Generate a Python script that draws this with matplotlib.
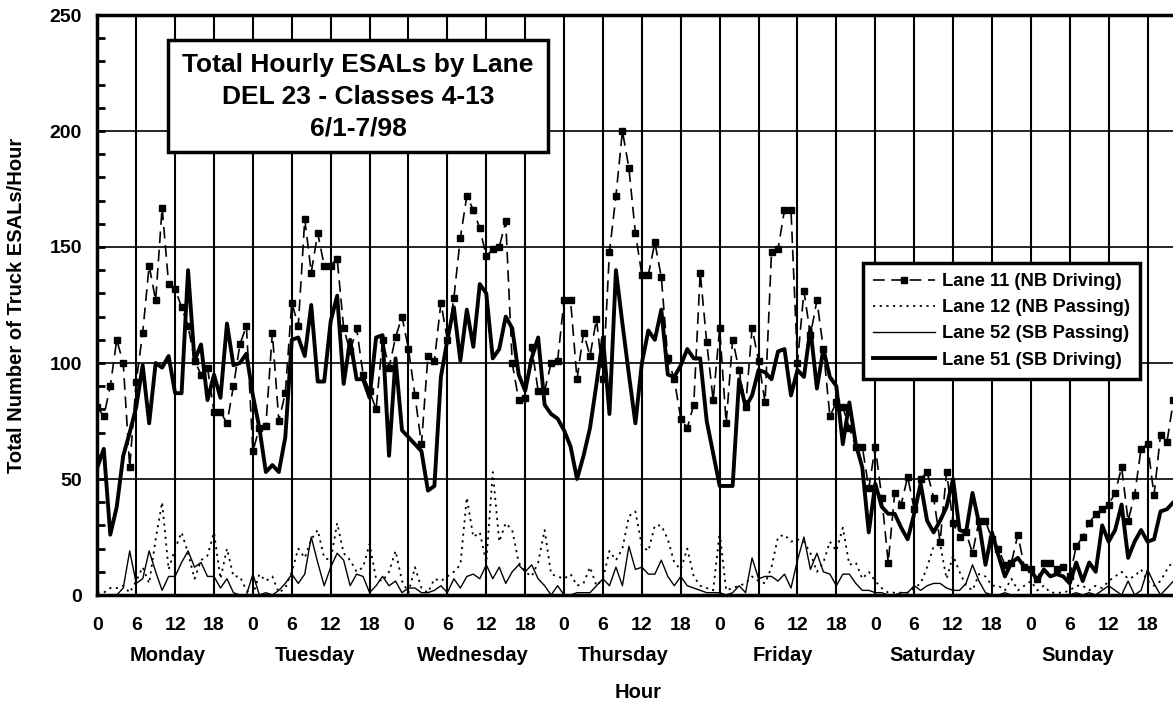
import numpy as np
import matplotlib
matplotlib.use("Agg")
import matplotlib.pyplot as plt
from matplotlib.patches import Rectangle

plt.rcParams['font.family'] = ['Liberation Sans', 'DejaVu Sans']
plt.rcParams['font.weight'] = 'bold'

# hourly ESALs, Monday 0h .. Sunday 23h
lane11 = [81, 77, 90, 110, 100, 55, 92, 113, 142, 127, 167, 134, 132, 124, 116, 101, 95, 98, 79, 79, 74, 90, 108, 116,
          62, 72, 73, 113, 75, 87, 126, 116, 162, 139, 156, 142, 142, 145, 115, 105, 115, 95, 88, 80, 110, 98, 111, 120,
          106, 86, 65, 103, 101, 126, 110, 128, 154, 172, 166, 158, 146, 149, 150, 161, 100, 84, 85, 107, 88, 88, 100, 101,
          127, 127, 93, 113, 103, 119, 93, 148, 172, 200, 184, 156, 138, 138, 152, 137, 102, 93, 76, 72, 82, 139, 109, 84,
          115, 74, 110, 97, 81, 115, 101, 83, 148, 149, 166, 166, 100, 131, 112, 127, 106, 77, 83, 81, 72, 64, 64, 46,
          64, 42, 14, 44, 39, 51, 37, 50, 53, 42, 23, 53, 31, 25, 27, 18, 32, 32, 24, 20, 13, 14, 26, 12,
          11, 7, 14, 14, 11, 12, 8, 21, 25, 31, 35, 37, 39, 44, 55, 32, 43, 63, 65, 43, 69, 66, 84, 84]

lane12 = [1, 1, 3, 3, 4, 1, 6, 12, 5, 24, 40, 11, 20, 27, 18, 7, 15, 17, 27, 7, 20, 8, 8, 2,
          0, 9, 6, 8, 1, 3, 10, 20, 16, 24, 28, 16, 15, 31, 18, 15, 10, 12, 22, 7, 6, 10, 19, 6,
          1, 12, 3, 1, 7, 6, 8, 10, 13, 42, 25, 27, 14, 53, 23, 31, 28, 14, 10, 8, 14, 28, 9, 8,
          7, 9, 4, 5, 12, 4, 7, 19, 15, 20, 34, 36, 21, 19, 30, 30, 24, 14, 11, 20, 8, 4, 3, 2,
          27, 2, 3, 4, 5, 8, 6, 5, 12, 25, 26, 23, 24, 23, 18, 10, 14, 23, 19, 29, 13, 14, 7, 10,
          6, 3, 1, 1, 1, 1, 3, 5, 12, 21, 22, 7, 17, 10, 4, 2, 9, 8, 4, 4, 2, 7, 2, 4,
          6, 2, 4, 1, 1, 1, 2, 4, 4, 2, 4, 3, 6, 8, 10, 7, 8, 11, 6, 4, 6, 11, 15, 15]

lane52 = [0, 0, 0, 0, 3, 19, 5, 7, 19, 10, 2, 8, 8, 14, 19, 12, 14, 8, 8, 3, 7, 1, 0, 0,
          9, 0, 1, 0, 2, 5, 9, 5, 9, 25, 14, 4, 12, 18, 15, 4, 9, 8, 1, 4, 8, 4, 6, 1,
          3, 3, 1, 1, 2, 4, 1, 7, 3, 8, 9, 7, 13, 7, 12, 5, 10, 13, 10, 13, 7, 4, 0, 4,
          0, 0, 1, 1, 1, 4, 7, 4, 12, 4, 21, 11, 12, 9, 9, 15, 8, 4, 8, 4, 3, 2, 1, 1,
          1, 0, 1, 4, 1, 16, 7, 8, 8, 6, 9, 3, 15, 25, 11, 18, 10, 9, 4, 9, 9, 5, 2, 2,
          1, 1, 0, 0, 1, 1, 4, 2, 4, 5, 5, 3, 2, 2, 5, 13, 6, 1, 0, 0, 1, 0, 0, 0,
          0, 0, 0, 0, 0, 0, 0, 1, 0, 1, 0, 2, 4, 2, 0, 6, 0, 2, 11, 5, 0, 3, 6, 6]

lane51 = [55, 63, 26, 38, 60, 70, 81, 99, 74, 100, 98, 103, 87, 87, 140, 101, 108, 84, 95, 85, 117, 99, 100, 104,
          86, 72, 53, 56, 53, 68, 110, 111, 103, 125, 92, 92, 118, 129, 91, 110, 93, 93, 85, 111, 112, 60, 102, 71,
          68, 65, 62, 45, 47, 94, 110, 124, 101, 123, 107, 134, 130, 102, 106, 120, 115, 95, 88, 102, 111, 82, 78, 76,
          71, 64, 50, 60, 72, 91, 111, 78, 140, 117, 95, 74, 100, 114, 110, 123, 95, 94, 99, 106, 102, 102, 75, 61,
          47, 47, 47, 93, 81, 86, 97, 96, 93, 105, 106, 86, 97, 94, 115, 89, 106, 94, 90, 65, 83, 65, 55, 27,
          48, 38, 35, 35, 29, 24, 35, 48, 32, 27, 32, 38, 50, 28, 27, 44, 31, 13, 27, 17, 8, 14, 16, 12,
          11, 6, 11, 8, 9, 8, 5, 14, 6, 14, 10, 30, 23, 28, 39, 16, 23, 28, 23, 24, 36, 37, 40, 40]

days = ['Monday', 'Tuesday', 'Wednesday', 'Thursday', 'Friday', 'Saturday', 'Sunday']
day_label_hour = [10.8, 33.6, 58, 81.1, 105.8, 128.8, 151.3]
tick_hours = list(range(0, 168, 6))
tick_labels = ['0', '6', '12', '18'] * 7

hours = np.arange(len(lane11))

fig = plt.figure(figsize=(11.73, 7.06), dpi=100)
ax = fig.add_axes([97.3 / 1173, 1 - 595 / 706, 1 - 97.3 / 1173, 580 / 706])

ax.plot(hours, lane11, color='black', lw=1.2, ls=(0, (7, 4)), marker='s', ms=5,
        label='Lane 11 (NB Driving)', zorder=3)
ax.plot(hours, lane12, color='black', lw=1.3, ls=(0, (1.2, 2.5)),
        label='Lane 12 (NB Passing)', zorder=3)
ax.plot(hours, lane52, color='black', lw=1.0, label='Lane 52 (SB Passing)', zorder=3)
ax.plot(hours, lane51, color='black', lw=2.8, label='Lane 51 (SB Driving)', zorder=4)

ax.set_xlim(0, (1173 - 97.3) / 6.483)
ax.set_ylim(0, 250)
ax.set_xticks(tick_hours)
ax.set_xticklabels(tick_labels, fontsize=14, fontweight='bold')
ax.tick_params(axis='x', length=0, pad=16)
ax.set_yticks(range(0, 251, 50))
ax.set_yticklabels([str(v) for v in range(0, 251, 50)], fontsize=14, fontweight='bold')
ax.set_yticks(range(0, 251, 10), minor=True)
ax.tick_params(axis='y', which='both', direction='in', length=6, width=2, pad=11)
ax.tick_params(axis='x', which='minor', length=0)

ax.grid(axis='x', which='major', color='black', lw=1.5)
ax.set_axisbelow(True)
for v in [50, 100, 150, 200]:
    ax.axhline(v, color='black', lw=1.2, zorder=1)

for s in ['left', 'top', 'bottom']:
    ax.spines[s].set_linewidth(2.5)
ax.spines['right'].set_visible(False)

for d, h in zip(days, day_label_hour):
    ax.text(h, -0.105, d, transform=ax.get_xaxis_transform(), ha='center', va='center',
            fontsize=14.5, fontweight='bold')
fig.text(638 / 1173, 1 - 692 / 706, 'Hour', ha='center', va='center', fontsize=14.5, fontweight='bold')
fig.text(17 / 1173, 1 - 305 / 706, 'Total Number of Truck ESALs/Hour', rotation=90,
         ha='center', va='center', fontsize=14.5, fontweight='bold')

# title box
fig.patches.append(Rectangle((168 / 1173, 1 - 152 / 706), 380 / 1173, 112 / 706,
                             transform=fig.transFigure, fc='white', ec='black', lw=2.5, zorder=5))
for txt, y in zip(['Total Hourly ESALs by Lane', 'DEL 23 - Classes 4-13', '6/1-7/98'], [65, 97, 128]):
    fig.text(358 / 1173, 1 - y / 706, txt, ha='center', va='center', fontsize=19,
             fontweight='bold', zorder=6)

leg = ax.legend(loc='upper left', bbox_to_anchor=(863 / 1173, 1 - 263 / 706),
                bbox_transform=fig.transFigure, borderaxespad=0, frameon=True, fancybox=False,
                edgecolor='black', framealpha=1, handlelength=3.4, handletextpad=0.35,
                labelspacing=0.5, borderpad=0.55, prop={'size': 13.2, 'weight': 'bold'})
leg.get_frame().set_linewidth(2.5)
leg.set_zorder(10)

fig.savefig('out.png', dpi=100)
